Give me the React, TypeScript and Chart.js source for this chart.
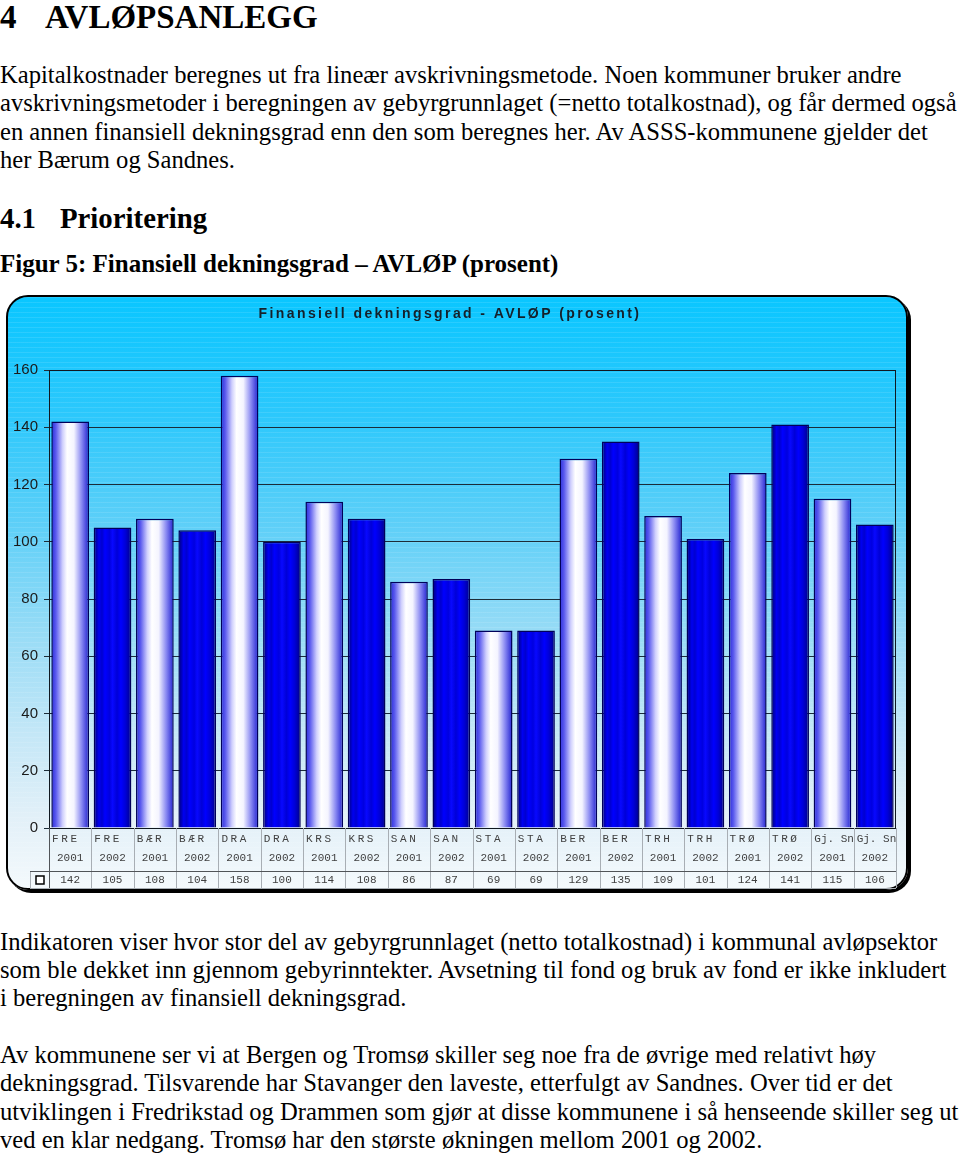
import React, { useEffect, useRef } from "react";
import { Chart, registerables } from "chart.js";

Chart.register(...registerables);

const municipalities = ["FRE", "BÆR", "DRA", "KRS", "SAN", "STA", "BER", "TRH", "TRØ", "Gj. Sn"];
const years = ["2001", "2002"];
const values = [142, 105, 108, 104, 158, 100, 114, 108, 86, 87, 69, 69, 129, 135, 109, 101, 124, 141, 115, 106];
const yTicks = [0, 20, 40, 60, 80, 100, 120, 140, 160];
const chartTitle = "Finansiell dekningsgrad - AVLØP (prosent)";

const catLabels: string[] = [];
const yearLabels: string[] = [];
municipalities.forEach((m) => years.forEach((y) => { catLabels.push(m); yearLabels.push(y); }));

const BAR_PCT = 0.89;
const SERIF = "'Liberation Serif', 'Times New Roman', serif";

function Line({ text, x, base, fs, bold }: { text: string; x: number; base: number; fs: number; bold?: boolean }) {
  return (
    <div
      style={{
        position: "absolute",
        left: x,
        top: base - 0.891 * fs,
        fontFamily: SERIF,
        fontSize: fs,
        lineHeight: `${1.107 * fs}px`,
        fontWeight: bold ? 700 : 400,
        whiteSpace: "nowrap",
        color: "#000",
      }}
    >
      {text}
    </div>
  );
}

function barGradient(ctx: any, kind: number) {
  const chart = ctx.chart;
  const xs = chart.scales && chart.scales.x;
  if (!chart.chartArea || !xs || ctx.dataIndex === undefined) return kind === 0 ? "#8080f0" : "#0000ff";
  const cx = xs.getPixelForValue(ctx.dataIndex);
  const half = ((xs.right - xs.left) / values.length) * BAR_PCT / 2;
  const g = chart.ctx.createLinearGradient(cx - half, 0, cx + half, 0);
  if (kind === 0) {
    g.addColorStop(0, "#2828d8");
    g.addColorStop(0.12, "#5a5aee");
    g.addColorStop(0.3, "#d0d0fd");
    g.addColorStop(0.42, "#ffffff");
    g.addColorStop(0.6, "#f4f4ff");
    g.addColorStop(0.8, "#8a8af2");
    g.addColorStop(1, "#2020d0");
  } else {
    g.addColorStop(0, "#00007a");
    g.addColorStop(0.08, "#0000b8");
    g.addColorStop(0.14, "#0000f0");
    g.addColorStop(0.22, "#0000d0");
    g.addColorStop(0.3, "#0000ff");
    g.addColorStop(0.42, "#0000e0");
    g.addColorStop(0.5, "#0808ff");
    g.addColorStop(0.62, "#0000d8");
    g.addColorStop(0.72, "#0000ff");
    g.addColorStop(0.84, "#0000d8");
    g.addColorStop(0.92, "#0000b0");
    g.addColorStop(1, "#000078");
  }
  return g;
}

const tablePlugin = {
  id: "tablePlugin",
  afterDraw(chart: any) {
    const { ctx, chartArea } = chart;
    const xs = chart.scales.x;
    const left = chartArea.left;
    const right = chartArea.right;
    const bottom = chartArea.bottom;
    const n = values.length;
    const w = (right - left) / n;
    const rowCat = bottom + 11;
    const rowYear = bottom + 30;
    const sepY = bottom + 43;
    const rowVal = bottom + 52;
    const endY = bottom + 60;
    ctx.save();
    ctx.strokeStyle = "#101820";
    ctx.lineWidth = 1;
    ctx.strokeRect(left + 0.5, chartArea.top + 0.5, right - left - 1, bottom - chartArea.top);
    ctx.strokeStyle = "#a8aeb4";
    ctx.beginPath();
    for (let i = 0; i <= n; i++) {
      const x = Math.round(left + i * w) + 0.5;
      ctx.moveTo(x, bottom);
      ctx.lineTo(x, endY);
    }
    ctx.moveTo(30.5, sepY);
    ctx.lineTo(30.5, endY);
    ctx.moveTo(30, endY + 0.5);
    ctx.lineTo(right, endY + 0.5);
    ctx.stroke();
    ctx.strokeStyle = "#505458";
    ctx.beginPath();
    ctx.moveTo(30, sepY + 0.5);
    ctx.lineTo(right, sepY + 0.5);
    ctx.moveTo(left + 0.5, bottom);
    ctx.lineTo(left + 0.5, endY);
    ctx.stroke();
    ctx.fillStyle = "#ffffff";
    ctx.fillRect(36, rowVal - 4, 8, 8);
    ctx.strokeStyle = "#000";
    ctx.lineWidth = 1.5;
    ctx.strokeRect(36, rowVal - 4, 8, 8);
    ctx.fillStyle = "#404040";
    ctx.textBaseline = "middle";
    ctx.font = "11px 'Liberation Mono', 'DejaVu Sans Mono', monospace";
    for (let i = 0; i < n; i++) {
      const cx = xs.getPixelForValue(i);
      const cellL = cx - w / 2;
      const lab = catLabels[i];
      (ctx as any).letterSpacing = lab.length > 3 ? "0px" : "2.6px";
      ctx.textAlign = "left";
      ctx.fillText(lab, cellL + 3, rowCat);
      (ctx as any).letterSpacing = "0px";
      ctx.textAlign = "center";
      ctx.fillText(yearLabels[i], cx, rowYear);
      ctx.fillText(String(values[i]), cx, rowVal);
    }
    ctx.fillStyle = "#15202a";
    ctx.font = "bold 14px 'Liberation Sans', Arial, sans-serif";
    (ctx as any).letterSpacing = "2.4px";
    ctx.textAlign = "center";
    ctx.fillText(chartTitle, 450, 24);
    (ctx as any).letterSpacing = "0px";
    ctx.restore();
  },
};

function FigureChart() {
  const ref = useRef<HTMLCanvasElement>(null);
  useEffect(() => {
    if (!ref.current) return;
    const chart = new Chart(ref.current, {
      type: "bar",
      data: {
        labels: catLabels.map((c, i) => `${c} ${yearLabels[i]}`),
        datasets: [
          {
            label: "Finansiell dekningsgrad",
            data: values,
            backgroundColor: (ctx: any) => barGradient(ctx, ctx.dataIndex % 2),
            borderColor: "#00005a",
            borderWidth: 1.5,
            barPercentage: BAR_PCT,
            categoryPercentage: 1,
          },
        ],
      },
      options: {
        animation: false,
        responsive: true,
        maintainAspectRatio: false,
        layout: { padding: { left: 0, top: 80, right: 64, bottom: 72 } },
        plugins: { legend: { display: false }, tooltip: { enabled: false }, title: { display: false } },
        scales: {
          x: { display: false, offset: true },
          y: {
            min: 0,
            max: 160,
            afterFit: (s: any) => { s.width = 49; },
            afterBuildTicks: (s: any) => { s.ticks = yTicks.map((v) => ({ value: v })); },
            ticks: {
              stepSize: 20,
              padding: 6,
              color: "#1a1a1a",
              font: { family: "'Liberation Sans', Arial, sans-serif", size: 15 },
            },
            grid: { color: "#1c2c38", lineWidth: 1, tickLength: 5 },
            border: { display: true, color: "#101010", width: 1 },
          },
        },
      },
      plugins: [tablePlugin],
    });
    return () => chart.destroy();
  }, []);
  return <canvas ref={ref} />;
}

export default function App() {
  const fs = 24.6;
  return (
    <div style={{ position: "absolute", left: 0, top: 0, width: 960, height: 1157, overflow: "hidden", background: "#fff" }}>
      <Line text="4" x={0} base={28} fs={33} bold />
      <Line text="AVLØPSANLEGG" x={45} base={28} fs={33} bold />
      <Line text="Kapitalkostnader beregnes ut fra lineær avskrivningsmetode. Noen kommuner bruker andre" x={0} base={83} fs={fs} />
      <Line text="avskrivningsmetoder i beregningen av gebyrgrunnlaget (=netto totalkostnad), og får dermed også" x={0} base={111} fs={fs} />
      <Line text="en annen finansiell dekningsgrad enn den som beregnes her. Av ASSS-kommunene gjelder det" x={0} base={140} fs={fs} />
      <Line text="her Bærum og Sandnes." x={0} base={168} fs={fs} />
      <Line text="4.1" x={0} base={229} fs={28.8} bold />
      <Line text="Prioritering" x={60} base={229} fs={28.8} bold />
      <Line text="Figur 5: Finansiell dekningsgrad – AVLØP (prosent)" x={0} base={272} fs={25} bold />

      <div
        style={{
          position: "absolute",
          left: 6,
          top: 295,
          width: 902,
          height: 595,
          boxSizing: "border-box",
          border: "2px solid #000",
          borderRadius: 22,
          boxShadow: "3px 3px 0 #000",
          background:
            "repeating-linear-gradient(to bottom, rgba(255,255,255,0.10) 0px, rgba(255,255,255,0.10) 1px, rgba(0,0,0,0) 1px, rgba(0,0,0,0) 5px), linear-gradient(to bottom, #0ac6ff 0%, #2cc8fc 20%, #5ccff8 38%, #95dbf6 56%, #c4e7f7 74%, #e2f0f8 88%, #f4f9fc 100%)",
        }}
      />
      <div style={{ position: "absolute", left: 0, top: 290, width: 960, height: 610 }}>
        <FigureChart />
      </div>

      <Line text="Indikatoren viser hvor stor del av gebyrgrunnlaget (netto totalkostnad) i kommunal avløpsektor" x={0} base={950} fs={fs} />
      <Line text="som ble dekket inn gjennom gebyrinntekter. Avsetning til fond og bruk av fond er ikke inkludert" x={0} base={978} fs={fs} />
      <Line text="i beregningen av finansiell dekningsgrad." x={0} base={1006} fs={fs} />
      <Line text="Av kommunene ser vi at Bergen og Tromsø skiller seg noe fra de øvrige med relativt høy" x={0} base={1063} fs={fs} />
      <Line text="dekningsgrad. Tilsvarende har Stavanger den laveste, etterfulgt av Sandnes. Over tid er det" x={0} base={1091} fs={fs} />
      <Line text="utviklingen i Fredrikstad og Drammen som gjør at disse kommunene i så henseende skiller seg ut" x={0} base={1120} fs={fs} />
      <Line text="ved en klar nedgang. Tromsø har den største økningen mellom 2001 og 2002." x={0} base={1148} fs={fs} />
    </div>
  );
}
